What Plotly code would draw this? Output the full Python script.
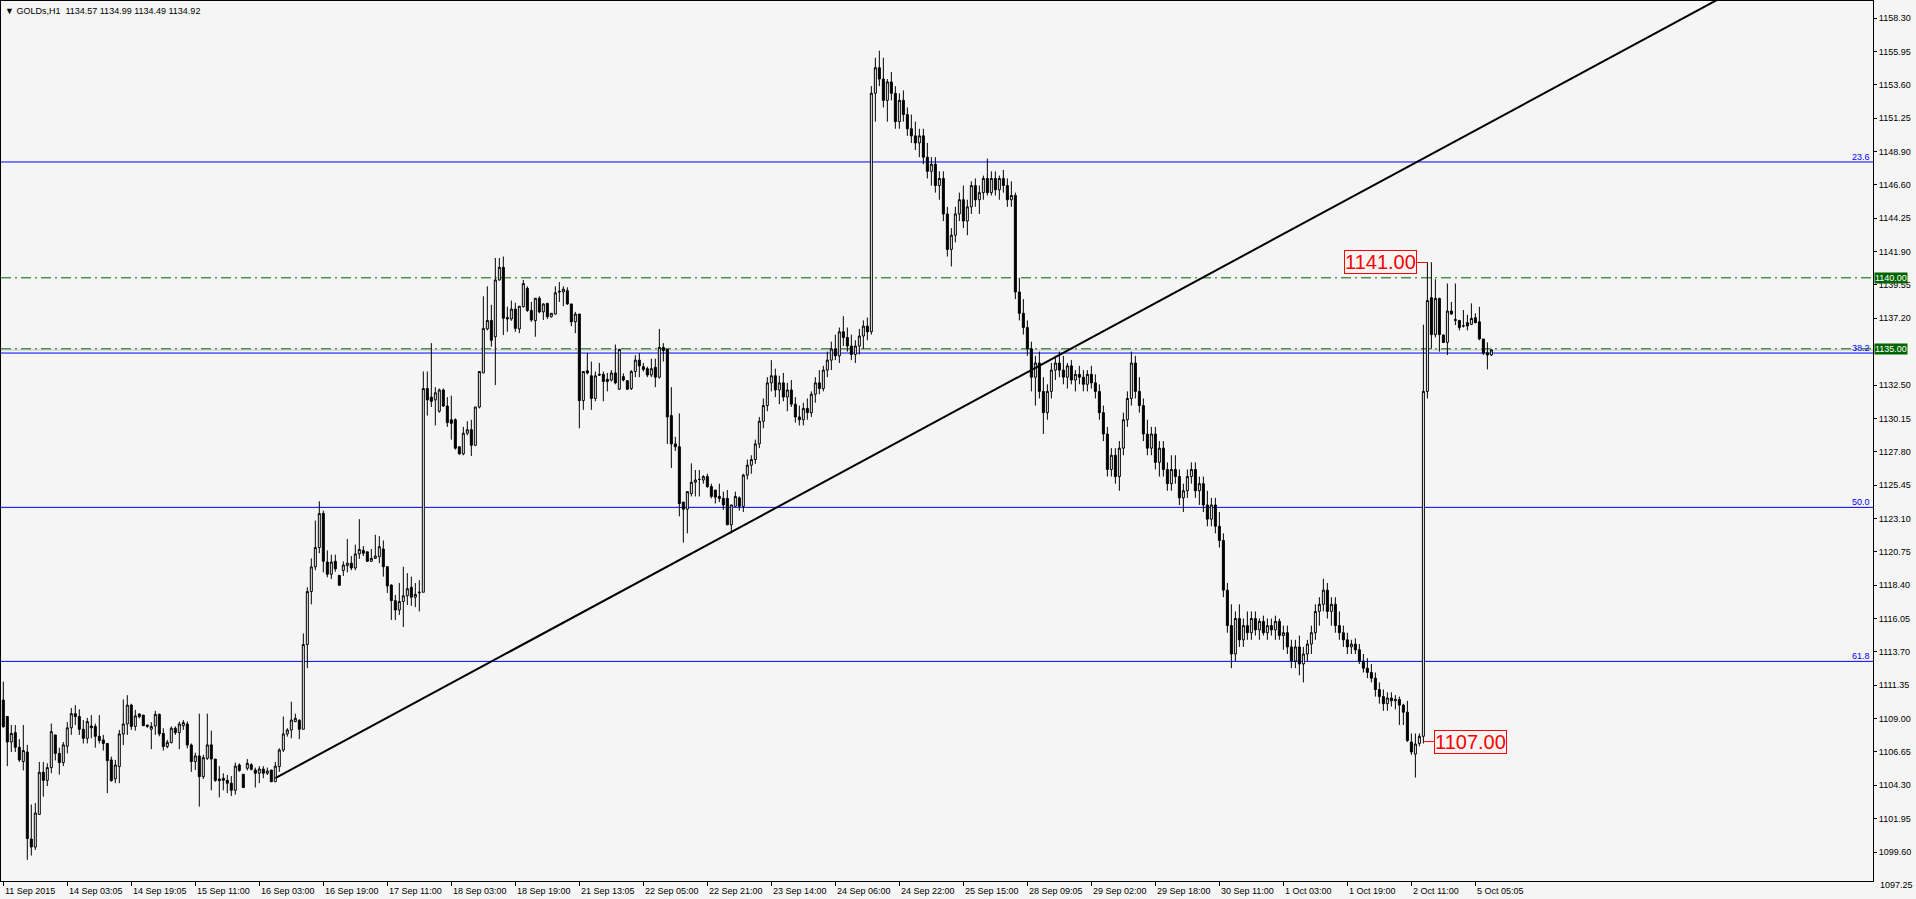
import plotly.graph_objects as go

# ---------------- data (GOLDs, H1) ----------------
open_ = [
1110.26,1109.10,1107.30,1107.96,1106.93,1105.92,1106.60,1100.47,1099.90,1102.20,
1105.17,1104.60,1105.50,1107.80,1106.50,1105.85,1107.00,1108.30,1109.30,1109.10,
1108.20,1107.56,1108.43,1108.40,1107.70,1107.45,1107.20,1106.04,1104.70,1105.57,
1107.87,1108.57,1109.90,1108.40,1109.28,1109.20,1108.50,1108.20,1108.43,1109.25,
1107.90,1106.98,1107.26,1108.27,1107.96,1108.45,1108.57,1107.09,1105.92,1106.32,
1104.86,1106.15,1107.10,1106.10,1104.70,1104.75,1104.60,1104.40,1103.90,1105.68,
1105.03,1105.45,1105.70,1105.33,1105.10,1105.40,1105.10,1105.33,1104.50,1105.57,
1106.74,1107.87,1108.15,1108.74,1108.83,1108.20,1114.17,1117.90,1119.64,1121.00,
1123.40,1119.98,1119.12,1120.03,1119.04,1119.38,1119.72,1119.90,1119.56,1120.55,
1120.80,1120.70,1120.03,1120.24,1120.36,1120.90,1119.65,1118.36,1117.26,1116.60,
1117.20,1117.60,1118.20,1117.50,1117.80,1117.85,1132.20,1131.60,1131.40,1130.60,
1132.10,1130.97,1130.00,1130.00,1128.10,1127.60,1129.05,1129.30,1128.20,1130.90,
1133.30,1136.40,1137.00,1135.85,1139.85,1140.74,1137.20,1137.10,1137.80,1136.40,
1137.97,1139.26,1137.70,1136.98,1138.56,1137.60,1138.20,1137.26,1137.45,1139.00,
1139.00,1139.10,1138.16,1136.90,1137.45,1131.35,1133.45,1133.10,1131.50,1133.20,
1133.20,1132.85,1132.80,1133.30,1132.15,1133.04,1132.75,1132.20,1133.40,1134.20,
1133.74,1133.60,1133.15,1133.70,1133.00,1135.10,1134.96,1130.30,1128.30,1128.10,
1124.20,1123.70,1124.80,1125.60,1125.80,1125.76,1126.00,1125.30,1125.05,1124.60,
1124.46,1124.46,1122.60,1123.90,1124.50,1123.90,1126.10,
1126.8,1127.2,1128.3,1129.9,1131.0,1132.6,1133.1,1132.1,1132.6,1131.6,
1132.1,1131.1,1130.2,1130.0,1130.8,1130.5,1131.8,1132.6,1132.2,1133.5,
1134.2,1135.0,1134.5,1136.2,1135.8,1135.2,1134.6,1135.2,1135.9,1136.6,
1136.2,1153.0,1154.8,1154.0,1152.5,1153.8,1153.0,1151.0,1152.5,1151.5,
1150.5,1150.0,1149.5,1150.0,1148.5,1147.5,1148.0,1146.5,1147.0,1144.5,
1142.0,1143.0,1144.5,1145.5,1144.0,1145.0,1146.5,1145.5,1146.0,1147.0,
1146.0,1147.0,1146.2,1147.0,1146.5,1145.5,1145.8,1139.0,1137.5,1136.5,
1135.0,1133.0,1134.0,1132.0,1130.5,1132.0,1133.5,1134.0,1133.5,1133.0,
1133.8,1132.8,1133.2,1133.0,1132.5,1133.2,1132.6,1132.0,1130.5,1129.0,
1126.5,1127.5,1126.0,1128.0,1130.0,1131.5,1134.0,1132.0,1131.0,1129.0,
1128.0,1129.0,1127.0,1128.0,1126.5,1125.5,1126.5,1126.0,1124.5,1125.0,
1126.0,1126.5,1125.0,1125.5,1124.0,1123.0,1124.0,1122.5,1121.5,1118.0,
1115.5,1113.5,1116.0,1114.5,1115.5,1115.0,1116.0,1115.2,1115.8,1115.0,
1115.5,1115.2,1115.8,1114.8,1115.0,1114.0,1113.0,1114.0,1112.8,1113.5,
1114.2,1115.0,1116.5,1117.0,1118.0,1116.5,1117.0,1115.5,1115.0,1114.5,
1114.0,1114.2,1113.8,1113.0,1112.5,1112.2,1111.8,1111.0,1110.5,1110.0,
1110.4,1110.2,1110.3,1109.9,1109.4,1107.3,1106.45,1107.2,1107.7,1132.0,
1138.6,1136.0,1138.55,1135.97,1135.45,1137.66,1137.0,1137.0,1136.6,1136.84,
1136.72,1137.19,1136.9,1135.69,1134.72,1134.57,
]
high_ = [
1111.55,1109.10,1108.50,1108.50,1107.50,1108.50,1107.10,1102.90,1103.00,1105.90,
1105.90,1105.80,1108.60,1107.80,1106.90,1107.30,1108.70,1109.70,1109.90,1109.60,
1108.85,1109.00,1109.20,1108.60,1109.20,1107.80,1107.20,1106.27,1106.04,1108.15,
1110.30,1110.60,1110.00,1109.56,1109.30,1109.20,1108.50,1108.70,1109.50,1109.30,
1108.27,1107.45,1108.40,1108.40,1108.74,1108.85,1108.74,1107.20,1106.55,1109.30,
1106.40,1109.30,1108.10,1106.10,1105.60,1105.10,1104.98,1104.90,1105.85,1105.80,
1105.03,1106.10,1105.80,1105.50,1105.60,1105.60,1105.50,1105.33,1105.90,1106.86,
1109.10,1108.27,1110.14,1109.30,1108.90,1114.95,1118.20,1120.24,1122.90,1124.26,
1123.60,1120.80,1120.50,1120.50,1119.04,1120.03,1121.60,1120.40,1121.20,1123.00,
1121.10,1120.70,1120.90,1121.90,1121.80,1121.50,1119.70,1118.40,1117.66,1118.50,
1119.65,1119.20,1118.95,1118.50,1118.70,1133.40,1133.40,1135.40,1132.30,1132.20,
1132.20,1131.60,1131.70,1130.10,1128.10,1129.50,1129.90,1130.00,1130.90,1133.40,
1138.70,1139.40,1138.10,1141.40,1141.40,1141.50,1137.97,1138.40,1138.25,1138.00,
1139.85,1139.40,1138.30,1138.56,1138.70,1138.20,1138.20,1137.50,1139.40,1139.70,
1139.40,1139.33,1138.16,1137.60,1137.45,1133.40,1134.70,1134.10,1133.40,1134.00,
1133.40,1133.30,1133.50,1135.30,1135.00,1133.27,1132.80,1133.50,1134.55,1134.70,
1134.00,1133.74,1134.30,1134.30,1136.40,1135.40,1134.96,1132.30,1128.80,1130.45,
1124.20,1124.94,1126.93,1126.46,1126.46,1126.10,1126.20,1125.50,1125.05,1125.50,
1124.94,1125.05,1124.00,1124.94,1124.60,1126.20,1127.20,
1127.5,1128.6,1130.2,1131.5,1133.0,1134.2,1133.6,1133.1,1133.3,1132.6,
1132.8,1131.6,1131.0,1131.2,1131.5,1132.0,1133.0,1133.5,1133.8,1134.8,
1135.5,1136.0,1136.5,1137.3,1136.5,1136.0,1135.6,1136.4,1137.0,1137.2,
1153.5,1155.5,1156.0,1155.5,1154.0,1154.5,1153.5,1153.0,1153.2,1152.0,
1151.5,1151.0,1150.5,1150.5,1149.5,1148.5,1148.5,1147.5,1147.5,1145.0,
1143.5,1145.0,1146.0,1146.5,1145.5,1146.8,1147.0,1146.5,1147.2,1148.4,
1147.5,1147.5,1147.2,1147.6,1147.0,1146.8,1146.0,1140.0,1138.5,1137.0,
1135.5,1134.5,1134.8,1133.0,1132.5,1134.0,1134.5,1134.8,1134.5,1134.0,
1134.2,1133.5,1133.8,1133.5,1133.5,1133.8,1133.2,1132.5,1131.0,1129.5,
1128.0,1128.0,1128.5,1130.5,1132.0,1134.8,1134.5,1133.0,1131.5,1130.0,
1129.5,1129.5,1128.5,1128.5,1127.0,1127.5,1127.5,1126.5,1125.5,1126.5,
1127.0,1127.0,1126.0,1126.0,1125.0,1124.5,1124.5,1123.5,1122.0,1118.5,
1117.0,1116.5,1117.0,1116.0,1116.5,1116.5,1116.5,1116.0,1116.2,1116.0,
1116.0,1116.2,1116.0,1115.5,1115.5,1114.5,1114.5,1114.8,1114.0,1114.5,
1115.5,1117.0,1117.5,1118.8,1118.5,1117.5,1117.5,1116.5,1115.5,1115.0,
1114.5,1114.6,1114.2,1113.5,1113.2,1112.8,1112.2,1111.5,1111.0,1110.8,
1110.8,1110.6,1110.5,1110.0,1110.2,1107.9,1107.9,1107.9,1136.7,1141.1,
1141.1,1139.9,1138.6,1136.0,1139.6,1138.3,1139.6,1137.0,1137.73,1137.4,
1138.2,1137.5,1137.96,1135.7,1135.45,1134.99,
]
low_ = [
1108.30,1105.60,1106.60,1106.60,1105.90,1105.30,1099.00,1099.30,1099.70,1102.20,
1103.45,1104.20,1105.10,1106.00,1105.00,1105.60,1106.50,1107.80,1108.50,1107.80,
1107.20,1107.20,1107.56,1106.90,1107.20,1106.70,1103.70,1104.50,1104.40,1104.40,
1107.09,1107.80,1108.15,1108.10,1108.97,1108.45,1108.30,1106.80,1107.80,1107.70,
1106.70,1106.86,1107.20,1107.80,1106.80,1108.15,1106.86,1105.20,1105.33,1102.75,
1104.70,1106.04,1103.90,1104.50,1103.40,1103.90,1103.70,1103.50,1103.60,1105.20,
1104.09,1105.30,1105.30,1104.10,1104.40,1104.75,1104.98,1104.50,1104.50,1105.20,
1106.60,1107.68,1107.56,1108.70,1107.50,1108.20,1112.50,1117.00,1119.40,1120.60,
1119.25,1118.90,1118.78,1119.30,1118.34,1119.00,1119.25,1119.40,1119.40,1120.20,
1120.40,1120.00,1120.00,1120.20,1119.90,1118.95,1117.80,1115.90,1115.90,1116.25,
1115.40,1116.95,1116.90,1116.80,1116.50,1117.85,1130.30,1130.90,1129.60,1130.50,
1130.90,1129.50,1128.60,1127.90,1127.55,1127.50,1128.90,1127.45,1128.20,1130.80,
1133.30,1136.30,1135.15,1132.45,1139.80,1135.97,1136.20,1136.97,1136.20,1136.10,
1137.90,1137.60,1136.90,1135.85,1137.50,1137.03,1137.10,1137.20,1137.40,1138.30,
1138.00,1138.10,1136.60,1136.10,1129.40,1130.70,1133.20,1130.70,1131.30,1133.10,
1131.30,1132.00,1132.70,1132.50,1132.10,1132.70,1132.10,1132.10,1133.00,1133.00,
1133.40,1133.00,1133.00,1132.30,1132.90,1134.10,1128.30,1126.60,1127.80,1123.20,
1121.35,1122.00,1124.60,1124.60,1124.60,1125.50,1125.20,1124.46,1124.10,1124.20,
1123.65,1122.60,1122.00,1123.90,1123.60,1123.50,1125.80,
1126.2,1126.9,1128.0,1129.4,1130.6,1132.0,1131.6,1131.1,1131.3,1130.6,
1130.9,1129.8,1129.6,1129.6,1130.0,1130.2,1131.2,1131.8,1132.0,1133.0,
1133.5,1134.2,1134.0,1135.2,1134.8,1134.2,1134.0,1134.6,1135.0,1135.6,
1136.0,1151.0,1153.5,1152.0,1151.0,1152.5,1150.5,1150.5,1151.0,1150.0,
1149.5,1149.0,1148.5,1148.0,1147.0,1146.5,1146.0,1145.5,1144.0,1141.5,
1140.8,1142.5,1144.0,1143.5,1143.0,1144.5,1145.0,1144.5,1145.5,1145.8,
1145.8,1145.8,1145.5,1146.0,1145.0,1145.0,1138.5,1137.0,1136.0,1134.5,
1132.0,1131.0,1131.5,1129.0,1130.0,1131.5,1132.8,1133.0,1132.5,1132.2,
1132.5,1132.0,1132.5,1132.0,1132.0,1132.2,1131.5,1130.0,1128.5,1126.0,
1126.0,1125.5,1125.0,1127.5,1129.5,1131.0,1131.5,1130.5,1128.5,1127.5,
1127.5,1126.5,1126.0,1126.0,1125.0,1125.0,1125.5,1124.0,1123.5,1124.5,
1125.5,1124.5,1124.0,1123.5,1122.5,1122.5,1122.0,1121.0,1117.5,1115.0,
1112.5,1113.0,1114.0,1114.0,1114.5,1114.5,1114.8,1114.5,1114.8,1114.5,
1114.8,1114.5,1114.5,1113.8,1113.5,1112.5,1112.5,1112.0,1111.5,1113.0,
1113.5,1114.5,1115.5,1116.5,1116.0,1115.5,1115.0,1114.5,1114.0,1113.5,
1113.5,1113.5,1112.8,1112.2,1111.8,1111.5,1110.5,1110.0,1109.5,1109.5,
1109.8,1109.6,1108.5,1108.5,1107.3,1106.4,1104.8,1107.0,1107.2,1131.5,
1135.0,1135.8,1134.8,1135.4,1134.56,1137.4,1136.67,1136.3,1136.5,1136.3,
1136.67,1136.8,1135.6,1134.56,1133.55,1134.49,
]
close_ = [
1108.38,1107.30,1107.90,1106.93,1106.04,1106.70,1100.50,1099.90,1102.30,1105.17,
1104.60,1105.50,1108.03,1106.50,1105.85,1107.10,1108.30,1109.30,1109.09,1108.20,
1107.56,1108.74,1108.30,1107.70,1107.40,1107.20,1105.99,1104.58,1105.68,1107.87,
1108.57,1109.90,1108.40,1109.14,1109.09,1108.45,1108.40,1108.40,1109.25,1107.87,
1106.98,1107.28,1108.27,1107.96,1108.57,1108.67,1107.09,1105.92,1106.32,1104.86,
1106.20,1107.10,1106.10,1104.60,1104.58,1104.60,1104.40,1103.90,1105.60,1105.30,
1104.09,1105.80,1105.38,1105.10,1105.40,1105.10,1105.26,1104.50,1105.60,1106.74,
1107.87,1108.15,1108.85,1108.97,1108.20,1114.17,1117.90,1119.64,1121.00,1123.40,
1120.03,1119.12,1119.98,1119.50,1118.34,1119.77,1119.90,1119.56,1120.55,1120.87,
1120.60,1120.03,1120.24,1120.40,1121.06,1119.65,1118.29,1117.26,1116.60,1117.20,
1117.60,1118.10,1117.50,1117.70,1117.85,1132.20,1131.40,1131.30,1131.90,1132.10,
1130.97,1129.80,1129.75,1128.00,1127.60,1129.05,1129.30,1128.20,1130.90,1133.40,
1136.44,1137.00,1135.60,1139.85,1140.74,1137.15,1137.10,1137.80,1136.44,1138.00,
1139.60,1137.70,1137.03,1138.56,1137.60,1138.16,1137.26,1137.50,1138.95,1139.05,
1139.20,1138.16,1136.90,1137.45,1131.35,1133.40,1133.30,1131.50,1133.10,1133.15,
1132.70,1132.70,1133.30,1132.60,1134.96,1132.80,1132.15,1133.40,1134.20,1133.80,
1133.55,1133.15,1133.60,1133.00,1135.10,1134.87,1130.20,1128.30,1128.10,1124.10,
1123.70,1124.94,1125.60,1125.76,1125.80,1126.00,1125.30,1124.60,1124.55,1124.46,
1124.00,1122.60,1124.00,1124.60,1123.90,1126.10,1126.80,
1127.2,1128.3,1129.9,1131.0,1132.6,1133.1,1132.1,1132.6,1131.6,1132.1,
1131.1,1130.2,1130.0,1130.8,1130.5,1131.8,1132.6,1132.2,1133.5,1134.2,
1135.0,1134.5,1136.2,1135.8,1135.2,1134.6,1135.2,1135.9,1136.6,1136.2,
1153.0,1154.8,1154.0,1152.5,1153.8,1153.0,1151.0,1152.5,1151.5,1150.5,
1150.0,1149.5,1150.0,1148.5,1147.5,1148.0,1146.5,1147.0,1144.5,1142.0,
1143.0,1144.5,1145.5,1144.0,1145.0,1146.5,1145.5,1146.0,1147.0,1146.0,
1147.0,1146.2,1147.0,1146.5,1145.5,1145.8,1139.0,1137.5,1136.5,1135.0,
1133.0,1134.0,1132.0,1130.5,1132.0,1133.5,1134.0,1133.5,1133.0,1133.8,
1132.8,1133.2,1133.0,1132.5,1133.2,1132.6,1132.0,1130.5,1129.0,1126.5,
1127.5,1126.0,1128.0,1130.0,1131.5,1134.0,1132.0,1131.0,1129.0,1128.0,
1129.0,1127.0,1128.0,1126.5,1125.5,1126.5,1126.0,1124.5,1125.0,1126.0,
1126.5,1125.0,1125.5,1124.0,1123.0,1124.0,1122.5,1121.5,1118.0,1115.5,
1113.5,1116.0,1114.5,1115.5,1115.0,1116.0,1115.2,1115.8,1115.0,1115.5,
1115.2,1115.8,1114.8,1115.0,1114.0,1113.0,1114.0,1112.8,1113.5,1114.2,
1115.0,1116.5,1117.0,1118.0,1116.5,1117.0,1115.5,1115.0,1114.5,1114.0,
1114.2,1113.8,1113.0,1112.5,1112.2,1111.8,1111.0,1110.5,1110.0,1110.4,
1110.2,1110.3,1109.9,1109.4,1107.4,1106.6,1107.16,1107.7,1132.0,1138.4,
1136.0,1138.55,1136.0,1135.45,1137.66,1137.45,1137.05,1136.5,1136.62,1136.6,
1137.14,1136.84,1135.69,1134.68,1134.56,1134.92,
]
bars = list(range(len(open_)))

time_tick_bars = [0, 16, 32, 48, 64, 80, 96, 112, 128, 144, 160, 176,
                  192, 208, 224, 240, 256, 272, 288, 304, 320, 336, 352, 368]
time_tick_text = ["11 Sep 2015", "14 Sep 03:05", "14 Sep 19:05", "15 Sep 11:00",
                  "16 Sep 03:00", "16 Sep 19:00", "17 Sep 11:00", "18 Sep 03:00",
                  "18 Sep 19:00", "21 Sep 13:05", "22 Sep 05:00", "22 Sep 21:00",
                  "23 Sep 14:00", "24 Sep 06:00", "24 Sep 22:00", "25 Sep 15:00",
                  "28 Sep 09:05", "29 Sep 02:00", "29 Sep 18:00", "30 Sep 11:00",
                  "1 Oct 03:00", "1 Oct 19:00", "2 Oct 11:00", "5 Oct 05:05"]

price_tick_vals = [1158.30, 1155.95, 1153.60, 1151.25, 1148.90, 1146.55, 1144.20,
                   1141.85, 1139.50, 1137.15, 1132.45, 1130.10, 1127.75, 1125.40,
                   1123.05, 1120.70, 1118.35, 1116.00, 1113.65, 1111.30, 1108.95,
                   1106.60, 1104.25, 1101.90, 1099.55]
price_tick_text = ["1158.30", "1155.95", "1153.60", "1151.25", "1148.90", "1146.60",
                   "1144.25", "1141.90", "1139.55", "1137.20", "1132.50", "1130.15",
                   "1127.80", "1125.45", "1123.10", "1120.75", "1118.40", "1116.05",
                   "1113.70", "1111.35", "1109.00", "1106.65", "1104.30", "1101.95",
                   "1099.60"]
bottom_tick_val = 1097.20
bottom_tick_text = "1097.25"

fib_levels = [1148.16, 1134.70, 1123.83, 1112.98]
fib_labels = ["23.6", "38.2", "50.0", "61.8"]
level_lines = [1140.00, 1135.00]
level_labels = ["1140.00", "1135.00"]
bid_price = 1134.92

trend_x = [68, 480]
trend_y = [1104.76, 1167.42]

high_label = "1141.00"
high_label_price = 1141.08
high_label_bar = 356
low_label = "1107.00"
low_label_price = 1107.33
low_label_bar = 355

header = "GOLDs,H1  1134.57 1134.99 1134.49 1134.92"

# ---------------- layout geometry ----------------
W, H = 1916, 899
ML, MR, MT, MB = 1, 43, 1, 18
Y_MIN, Y_MAX = 1097.51, 1159.50
X_MIN, X_MAX = -0.575, 467.4
BG = "#F5F5F5"
FONT = "Liberation Sans"

fig = go.Figure()

fig.add_trace(go.Candlestick(
    x=bars, open=open_, high=high_, low=low_, close=close_,
    increasing=dict(line=dict(color="black", width=1), fillcolor=BG),
    decreasing=dict(line=dict(color="black", width=1), fillcolor="black"),
    whiskerwidth=0, showlegend=False, hoverinfo="skip",
))

fig.add_trace(go.Scatter(
    x=trend_x, y=trend_y, mode="lines",
    line=dict(color="black", width=2), showlegend=False, hoverinfo="skip",
))

shapes = []
for lv in fib_levels:
    shapes.append(dict(type="line", xref="paper", x0=0, x1=1, yref="y", y0=lv, y1=lv,
                       line=dict(color="#0000FF", width=1), layer="below"))
shapes.append(dict(type="line", xref="paper", x0=0, x1=1, yref="y", y0=bid_price, y1=bid_price,
                   line=dict(color="#C0C0C0", width=1), layer="below"))
for lv in level_lines:
    shapes.append(dict(type="line", xref="paper", x0=0, x1=1, yref="y", y0=lv, y1=lv,
                       line=dict(color="#006400", width=1, dash="10px,4px,2px,4px"), layer="below"))
shapes.append(dict(type="line", xref="x", x0=high_label_bar - 2.6, x1=high_label_bar,
                   yref="y", y0=high_label_price, y1=high_label_price,
                   line=dict(color="#FF0000", width=1)))
shapes.append(dict(type="line", xref="x", x0=low_label_bar, x1=low_label_bar + 2.6,
                   yref="y", y0=low_label_price, y1=low_label_price,
                   line=dict(color="#FF0000", width=1)))

annotations = []
annotations.append(dict(xref="paper", yref="paper", x=0, y=1, xanchor="left", yanchor="top",
                        xshift=2, yshift=-3, showarrow=False,
                        text="\u25BC " + header, font=dict(family=FONT, size=9, color="black")))
for lv, lab in zip(fib_levels, fib_labels):
    annotations.append(dict(xref="paper", yref="y", x=1, y=lv, xanchor="right", yanchor="bottom",
                            xshift=-1, yshift=-2, showarrow=False, text=lab,
                            font=dict(family=FONT, size=9, color="#0000FF")))
for lv, lab in zip(level_lines, level_labels):
    annotations.append(dict(xref="paper", yref="y", x=1, y=lv, xanchor="left", yanchor="middle",
                            xshift=1, showarrow=False, text=lab, bgcolor="#006400",
                            borderpad=0, font=dict(family=FONT, size=9, color="white")))
for b, t in zip(time_tick_bars, time_tick_text):
    annotations.append(dict(xref="x", yref="paper", x=b, y=0, xanchor="left", yanchor="top",
                            xshift=0, yshift=-3, showarrow=False, text=t,
                            font=dict(family=FONT, size=9, color="black")))
annotations.append(dict(xref="paper", yref="paper", x=1,
                        y=(bottom_tick_val - Y_MIN) / (Y_MAX - Y_MIN),
                        xanchor="left", yanchor="middle", xshift=5, showarrow=False,
                        text=bottom_tick_text, font=dict(family=FONT, size=9, color="black")))
annotations.append(dict(xref="x", yref="y", x=high_label_bar - 2.6, y=high_label_price,
                        xanchor="right", yanchor="middle", showarrow=False, text=high_label,
                        bgcolor=BG, bordercolor="#FF0000", borderwidth=1, borderpad=0,
                        font=dict(family=FONT, size=20, color="#FF0000")))
annotations.append(dict(xref="x", yref="y", x=low_label_bar + 2.6, y=low_label_price,
                        xanchor="left", yanchor="middle", showarrow=False, text=low_label,
                        bgcolor=BG, bordercolor="#FF0000", borderwidth=1, borderpad=0,
                        font=dict(family=FONT, size=20, color="#FF0000")))

fig.update_layout(
    width=W, height=H, autosize=False,
    margin=dict(l=ML, r=MR, t=MT, b=MB, pad=0),
    paper_bgcolor=BG, plot_bgcolor=BG,
    showlegend=False, boxgap=0.5, boxgroupgap=0,
    shapes=shapes, annotations=annotations,
    xaxis=dict(range=[X_MIN, X_MAX], showgrid=False, zeroline=False, automargin=False,
               showline=True, linecolor="black", linewidth=1, mirror=True,
               ticks="outside", ticklen=4, tickcolor="black", tickwidth=1,
               tickvals=time_tick_bars, showticklabels=False,
               rangeslider=dict(visible=False), fixedrange=True),
    yaxis=dict(range=[Y_MIN, Y_MAX], side="right", showgrid=False, zeroline=False,
               automargin=False,
               showline=True, linecolor="black", linewidth=1, mirror=True,
               ticks="outside", ticklen=3, tickcolor="black", tickwidth=1,
               tickvals=price_tick_vals, ticktext=price_tick_text,
               tickfont=dict(family=FONT, size=9, color="black"), fixedrange=True),
)

fig.write_html(
    "out.html",
    config={"displayModeBar": False, "responsive": False},
    post_script="document.body.style.margin='0';document.body.style.overflow='hidden';",
)
